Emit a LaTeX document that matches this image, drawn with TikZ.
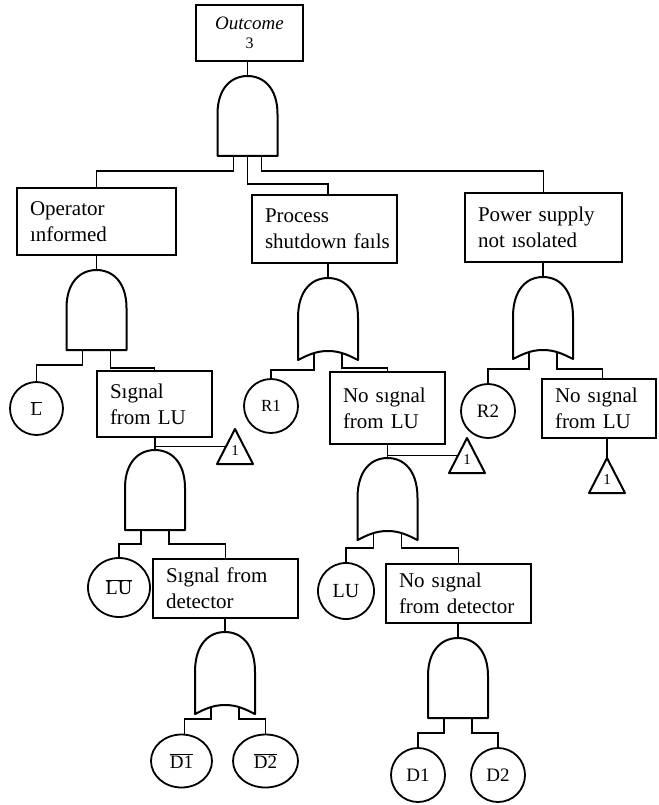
\documentclass[tikz,border=0pt]{standalone}
\usepackage{fontspec}
\setmainfont{Liberation Serif}
\usetikzlibrary{shapes.geometric}
\begin{document}
\begin{tikzpicture}[x=1pt,y=1pt,
  wireline/.style={line width=1.8pt},
  gateline/.style={line width=2pt, line join=round},
  evbox/.style={draw, line width=2pt, rectangle, inner xsep=13pt, inner ysep=0pt,
    align=left, font=\fontsize{21}{26}\selectfont},
  basic/.style={draw, line width=1.8pt, ellipse, inner sep=0pt,
    font=\fontsize{19}{19}\selectfont},
  andg/.pic={
    \draw[gateline] (-30,-80) -- (-30,-38) .. controls (-30,-12) and (-16,0) .. (0,0)
       .. controls (16,0) and (30,-12) .. (30,-38) -- (30,-80) -- cycle;
    \coordinate (-top) at (0,0);
    \coordinate (-l) at (-14,-80);
    \coordinate (-m) at (0,-80);
    \coordinate (-r) at (14,-80);
  },
  org/.pic={
    \draw[gateline] (-30,-82) -- (-30,-40) .. controls (-30,-12) and (-16,0) .. (0,0)
       .. controls (16,0) and (30,-12) .. (30,-40) -- (30,-82)
       .. controls (20,-77) and (12,-73) .. (0,-73)
       .. controls (-12,-73) and (-20,-77) .. (-30,-82) -- cycle;
    \coordinate (-top) at (0,0);
    \coordinate (-l) at (-14,-75);
    \coordinate (-r) at (14,-75);
  },
  xfer/.pic={
    \draw[gateline] (0,0) -- (18,-35) -- (-18,-35) -- cycle;
    \node[font=\fontsize{15}{15}\selectfont, inner sep=0pt] (-lab) at (0,-22) {1};
    \coordinate (-apex) at (0,0);
    \coordinate (-w) at (-9,-17.5);
  }
]
\useasboundingbox (0,0) rectangle (658,-805);

% ---- events ----
\node[draw, line width=2pt, minimum width=107pt, minimum height=56pt, inner sep=0pt,
  align=center, font=\fontsize{19}{19}\selectfont] (out) at (249.5,-33)
  {{\itshape Outcome}\\{\fontsize{16}{16}\selectfont 3}};
\node[evbox, text width=133pt, minimum height=67pt] (op) at (96.5,-221.5) {Operator\\ınformed};
\node[evbox, text width=119pt, minimum height=68pt] (proc) at (324.5,-229) {Process\\\mbox{shutdown faıls}};
\node[evbox, text width=131pt, minimum height=69pt] (pow) at (543.5,-227.5) {Power supply\\not ısolated};
\node[evbox, text width=89pt, minimum height=66pt] (siglu) at (154.5,-404) {Sıgnal\\from LU};
\node[evbox, text width=89pt, minimum height=72pt] (nslu) at (387.5,-408) {No sıgnal\\from LU};
\node[evbox, text width=88pt, minimum height=59pt] (nsluR) at (599,-408.5) {No sıgnal\\from LU};
\node[evbox, text width=119pt, minimum height=59pt] (sigdet) at (225.5,-588.5) {Sıgnal from\\detector};
\node[evbox, text width=119pt, minimum height=59pt] (nsdet) at (458.5,-593.5) {No sıgnal\\from detector};

% ---- basic events ----
\node[basic, minimum width=53pt, minimum height=53pt] (lbar) at (36.5,-408.5) {$\overline{\mbox{L}}$};
\node[basic, minimum width=54pt, minimum height=54pt, font=\fontsize{17}{17}\selectfont] (r1) at (271,-406) {R1};
\node[basic, minimum width=54pt, minimum height=54pt] (r2) at (488,-411) {R2};
\node[basic, minimum width=62pt, minimum height=59pt, font=\fontsize{20}{20}\selectfont] (lubar) at (119,-587.5) {$\overline{\mbox{LU}}$};
\node[basic, minimum width=56pt, minimum height=56pt, font=\fontsize{20}{20}\selectfont] (lu) at (346,-591) {LU};
\node[basic, minimum width=61pt, minimum height=53pt] (d1bar) at (181.5,-761) {$\overline{\mbox{D1}}$};
\node[basic, minimum width=65pt, minimum height=53pt] (d2bar) at (265.5,-761) {$\overline{\mbox{D2}}$};
\node[basic, minimum width=54pt, minimum height=54pt] (d1) at (418,-775) {D1};
\node[basic, minimum width=54pt, minimum height=54pt] (d2) at (498,-775) {D2};

% ---- gates and transfer symbols ----
\pic (g0) at (247.5,-76) {andg};
\pic (g1) at (96.5,-270) {andg};
\pic (g2) at (328,-278) {org};
\pic (g3) at (543,-277) {org};
\pic (g4) at (155,-450) {andg};
\pic (g5) at (387.5,-458) {org};
\pic (g6) at (225,-632) {org};
\pic (g7) at (458,-638) {andg};
\pic (t1) at (235,-429) {xfer};
\pic (t2) at (467,-438) {xfer};
\pic (t3) at (607,-458) {xfer};

% ---- connectors ----
\draw[wireline] (g0-top) -- (g0-top |- out.south);
\draw[wireline] (g0-l) -- ++(0,-15) -| (op.north);
\draw[wireline] (g0-m) -- ++(0,-28) -| ([xshift=3.5pt]proc.north);
\draw[wireline] (g0-r) -- ++(0,-15) -| (pow.north);

\draw[wireline] (g1-top) -- (g1-top |- op.south);
\draw[wireline] (g1-l) -- ++(0,-15) -| (lbar.north);
\draw[wireline] (g1-r) -- ++(0,-18) -| (siglu.north);

\draw[wireline] (g2-top) -- (g2-top |- proc.south);
\draw[wireline] (g2-l) -- ++(0,-17) -| (r1.north);
\draw[wireline] (g2-r) -- ++(0,-15) -| (nslu.north);

\draw[wireline] (g3-top) -- (g3-top |- pow.south);
\draw[wireline] (g3-l) -- ++(0,-17) -| (r2.north);
\draw[wireline] (g3-r) -- ++(0,-17) -| ([xshift=3.5pt]nsluR.north);
\draw[wireline] (t3-apex) -- (t3-apex |- nsluR.south);

\draw[wireline] (g4-top) -- (g4-top |- siglu.south);
\draw[wireline] (g4-top |- t1-w) -- (t1-w);
\draw[wireline] (g4-l) -- ++(0,-14) -| (lubar.north);
\draw[wireline] (g4-r) -- ++(0,-14) -| (sigdet.north);

\draw[wireline] (g5-top) -- (g5-top |- nslu.south);
\draw[wireline] (g5-top |- t2-w) -- (t2-w);
\draw[wireline] (g5-l) -- ++(0,-15) -| (lu.north);
\draw[wireline] (g5-r) -- ++(0,-15) -| (nsdet.north);

\draw[wireline] (g6-top) -- (g6-top |- sigdet.south);
\draw[wireline] (g6-l) -- ++(0,-12) -| ([xshift=3pt]d1bar.north);
\draw[wireline] (g6-r) -- ++(0,-12) -| (d2bar.north);

\draw[wireline] (g7-top) -- (g7-top |- nsdet.south);
\draw[wireline] (g7-l) -- ++(0,-15) -| (d1.north);
\draw[wireline] (g7-r) -- ++(0,-15) -| (d2.north);
\end{tikzpicture}
\end{document}
